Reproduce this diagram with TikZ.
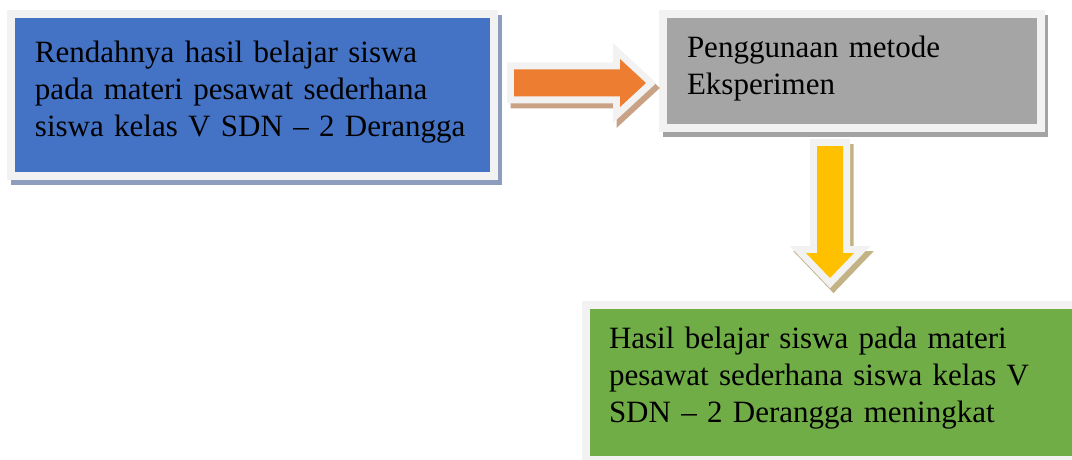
\documentclass[tikz,border=0pt]{standalone}
\usepackage{fontspec}
\setmainfont{Liberation Serif}
\usetikzlibrary{calc,backgrounds}

\definecolor{boxframe}{HTML}{F2F2F2}
\definecolor{boxblue}{HTML}{4472C4}
\definecolor{boxgray}{HTML}{A5A5A5}
\definecolor{boxgreen}{HTML}{70AD47}
\definecolor{arroworange}{HTML}{ED7D31}
\definecolor{arrowyellow}{HTML}{FFC000}
\definecolor{blueshade}{HTML}{8E9DBE}
\definecolor{grayshade}{HTML}{A3A3A3}
\definecolor{greenshade}{HTML}{9DB58C}
\definecolor{orangeshade}{HTML}{C9A286}
\definecolor{yellowshade}{HTML}{C4B287}

% fat arrow: style, from, to, half shaft, half head, head length
\newcommand{\blockarrow}[6]{%
  \path ($(#3)!#6!(#2)$) coordinate (ab);
  \path[#1] ($(#2)!#4!90:(#3)$) -- ($(ab)!#4!90:(#3)$) -- ($(ab)!#5!90:(#3)$) -- (#3)
    -- ($(ab)!#5!-90:(#3)$) -- ($(ab)!#4!-90:(#3)$) -- ($(#2)!#4!-90:(#3)$) -- cycle;}

\tikzset{
  box/.style={draw=boxframe, line width=8pt, inner xsep=12pt, inner ysep=4pt,
    align=left, font=\fontsize{31}{37}\selectfont,
    execute at begin node={\leftskip=12pt\hyphenpenalty=10000}},
  boxshade/.style={transform canvas={xshift=3.5pt, yshift=-5pt}},
  arrowframe/.style={draw=boxframe, fill=boxframe, line width=14pt},
}

\begin{document}
\begin{tikzpicture}[x=1pt, y=-1pt]
  \useasboundingbox (0,0) rectangle (1072,460);
  \clip (0,0) rectangle (1072,460);

  % boxes
  \node[box, fill=boxblue, text width=459pt, text height=45pt, text depth=109pt]
    (blue) at (252.5,95)
    {Rendahnya hasil belajar siswa\\pada materi pesawat sederhana\\siswa kelas V SDN – 2 Derangga};
  \node[box, fill=boxgray, text width=353.5pt, text height=40pt, text depth=66pt]
    (gray) at (851.75,71)
    {Penggunaan metode\\Eksperimen};
  \node[box, fill=boxgreen, inner xsep=11pt, text width=470pt, text height=39pt, text depth=108pt]
    (green) at (832,382.5)
    {Hasil belajar siswa pada materi\\pesawat sederhana siswa kelas V\\SDN – 2 Derangga meningkat};

  \begin{scope}[on background layer]
    \fill[blueshade, boxshade] (blue.south west) rectangle (blue.north east);
    \fill[grayshade, boxshade] (gray.south west) rectangle (gray.north east);
    \fill[greenshade, boxshade] (green.south west) rectangle (green.north east);
  \end{scope}

  % arrow ends
  \coordinate (mid) at ($(blue.east)!0.5!(gray.west)$);
  \coordinate (o1) at ($(blue.east |- mid)+(16,0)$);
  \coordinate (o2) at ($(gray.west |- mid)+(-13,0)$);
  \coordinate (y1) at ($(green.north |- gray.south)+(-2,14)$);
  \coordinate (y2) at ($(green.north)+(-2,-23)$);

  % orange arrow
  \blockarrow{draw=orangeshade, fill=orangeshade, line width=14pt, boxshade}{o1}{o2}{13.5pt}{24pt}{26pt}
  \blockarrow{arrowframe}{o1}{o2}{13.5pt}{24pt}{26pt}
  \blockarrow{fill=arroworange}{o1}{o2}{13.5pt}{24pt}{26pt}

  % yellow arrow
  \blockarrow{draw=yellowshade, fill=yellowshade, line width=14pt, boxshade}{y1}{y2}{13pt}{24pt}{25pt}
  \blockarrow{arrowframe}{y1}{y2}{13pt}{24pt}{25pt}
  \blockarrow{fill=arrowyellow}{y1}{y2}{13pt}{24pt}{25pt}
\end{tikzpicture}
\end{document}
